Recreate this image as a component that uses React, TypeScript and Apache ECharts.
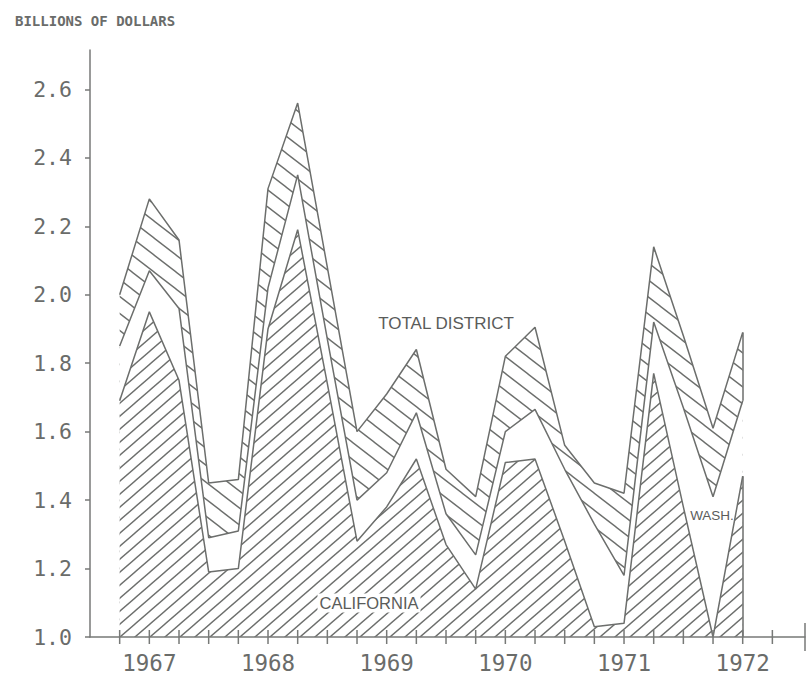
import React, { useEffect, useRef } from "react";
import * as echarts from "echarts";

// quarter index: 0 = 1967 tick, 4 = 1968 tick, ... 20 = 1972 tick
const quarters = [-1, 0, 1, 2, 3, 4, 5, 6, 7, 8, 9, 10, 11, 12, 13, 14, 15, 16, 17, 18, 19, 20];
const yearLabels = ["1967", "1968", "1969", "1970", "1971", "1972"];
const yearTicks = [0, 4, 8, 12, 16, 20];
const quarterTicks = [-1, 0, 1, 2, 3, 4, 5, 6, 7, 8, 9, 10, 11, 12, 13, 14, 15, 16, 17, 18, 19, 20, 21];
const yTicks = [1.0, 1.2, 1.4, 1.6, 1.8, 2.0, 2.2, 2.4, 2.6];

// upper boundary of each layer (billions of dollars)
const totalDistrict = [2.0, 2.28, 2.16, 1.45, 1.46, 2.31, 2.56, 2.08, 1.6, 1.71, 1.84, 1.49, 1.41, 1.82, 1.905, 1.56, 1.45, 1.42, 2.14, 1.88, 1.61, 1.89];
const californiaPlusWash = [1.85, 2.07, 1.96, 1.29, 1.31, 2.02, 2.35, 1.87, 1.4, 1.48, 1.655, 1.36, 1.24, 1.6, 1.665, 1.49, 1.33, 1.18, 1.92, 1.67, 1.41, 1.69];
const california = [1.69, 1.95, 1.75, 1.19, 1.2, 1.9, 2.19, 1.74, 1.28, 1.38, 1.52, 1.27, 1.14, 1.51, 1.52, 1.28, 1.03, 1.04, 1.77, 1.38, 1.0, 1.47];

const X_MIN = -2;
const X_MAX = 22.1;
const Y_MIN = 1.0;
const Y_MAX = 2.715;

const LINE = "#6c6e6c";
const AXIS = "#777977";
const TEXT = "#6a6c6a";
const MONO = "DejaVu Sans Mono, monospace";
const SANS = "Liberation Sans, Arial, sans-serif";

function hatch(dir: "/" | "\\", w: number, h: number, color: string, sw: number) {
  const segs: string[] = [];
  for (let k = -2; k <= 2; k++) {
    let x1 = -w, x2 = 2 * w, y1: number, y2: number;
    if (dir === "/") {
      y1 = 2 * h + k * h;
      y2 = -h + k * h;
    } else {
      y1 = -h + k * h;
      y2 = 2 * h + k * h;
    }
    segs.push(`<line x1="${x1}" y1="${y1}" x2="${x2}" y2="${y2}" stroke="${color}" stroke-width="${sw}"/>`);
  }
  const svg = `<svg xmlns="http://www.w3.org/2000/svg" width="${w}" height="${h}" viewBox="0 0 ${w} ${h}">${segs.join("")}</svg>`;
  return {
    image: "data:image/svg+xml;charset=utf-8," + encodeURIComponent(svg),
    repeat: "repeat",
    imageWidth: w,
    imageHeight: h,
  };
}

const pairs = (arr: number[]) => quarters.map((q, i) => [q, arr[i]]);
const lastQ = quarters[quarters.length - 1];
const lastIdx = quarters.length - 1;

export default function App() {
  const ref = useRef<HTMLDivElement>(null);
  useEffect(() => {
    if (!ref.current) return;
    const chart = echarts.init(ref.current, undefined, { renderer: "svg" });
    const option: any = {
      animation: false,
      backgroundColor: "#ffffff",
      title: {
        text: "BILLIONS OF DOLLARS",
        left: 10,
        top: 9,
        textStyle: { fontFamily: MONO, fontSize: 14, fontWeight: "bold", color: "#6a6c6a" },
      },
      grid: { left: 90, right: 2, top: 50, bottom: 43, containLabel: false },
      xAxis: {
        type: "value",
        min: X_MIN,
        max: X_MAX,
        interval: 1,
        z: 10,
        splitLine: { show: false },
        axisLine: { show: true, onZero: false, lineStyle: { color: AXIS, width: 1.5 } },
        axisTick: { show: false },
        axisLabel: {
          show: true,
          customValues: yearTicks,
          formatter: (v: number) => {
            const i = yearTicks.indexOf(Math.round(v));
            return i >= 0 ? yearLabels[i] : "";
          },
          margin: 14,
          fontFamily: MONO,
          fontSize: 22.5,
          color: TEXT,
        },
      },
      yAxis: {
        type: "value",
        min: Y_MIN,
        max: Y_MAX,
        interval: 0.2,
        z: 10,
        splitLine: { show: false },
        axisLine: { show: true, onZero: false, lineStyle: { color: AXIS, width: 1.5 } },
        axisTick: { show: true, inside: false, length: 5, customValues: yTicks, lineStyle: { color: AXIS, width: 1.5 } },
        axisLabel: {
          show: true,
          customValues: yTicks,
          formatter: (v: number) => v.toFixed(1),
          margin: 18,
          fontFamily: MONO,
          fontSize: 21.5,
          color: TEXT,
          verticalAlign: "middle",
          padding: [0, 0, 11, 0],
        },
      },
      series: [
        {
          name: "Total District",
          type: "line",
          z: 1,
          data: pairs(totalDistrict),
          symbol: "none",
          lineStyle: { color: LINE, width: 1.5 },
          itemStyle: { color: LINE },
          areaStyle: { color: hatch("\\", 22, 17, LINE, 1.4), opacity: 1, origin: "start" },
          markLine: {
            silent: true,
            symbol: ["none", "none"],
            label: { show: false },
            lineStyle: { color: LINE, width: 1.5, type: "solid" },
            data: [[{ coord: [lastQ, californiaPlusWash[lastIdx]] }, { coord: [lastQ, totalDistrict[lastIdx]] }]],
          },
        },
        {
          name: "Washington",
          type: "line",
          z: 2,
          data: pairs(californiaPlusWash),
          symbol: "none",
          lineStyle: { color: LINE, width: 1.5 },
          itemStyle: { color: LINE },
          areaStyle: { color: "#ffffff", opacity: 1, origin: "start" },
        },
        {
          name: "California",
          type: "line",
          z: 3,
          data: pairs(california),
          symbol: "none",
          lineStyle: { color: LINE, width: 1.5 },
          itemStyle: { color: LINE },
          areaStyle: { color: hatch("/", 15, 13, LINE, 1.4), opacity: 1, origin: "start" },
          markLine: {
            silent: true,
            symbol: ["none", "none"],
            label: { show: false },
            lineStyle: { color: LINE, width: 1.5, type: "solid" },
            data: [[{ coord: [lastQ, Y_MIN] }, { coord: [lastQ, california[lastIdx]] }]],
          },
        },
      ],
    };
    chart.setOption(option);

    // axis cross-ticks and the end cap, placed through the chart's own scales
    const tickValues = quarterTicks.map((t) => ({ t, len: 7 })).concat([{ t: X_MAX, len: 14 }]);
    const tickGraphics = tickValues.map(({ t, len }) => {
      const p = chart.convertToPixel({ gridIndex: 0 }, [t, Y_MIN]) as number[];
      return {
        type: "line",
        z: 200,
        silent: true,
        shape: { x1: p[0], y1: p[1] - len, x2: p[0], y2: p[1] + len },
        style: { stroke: AXIS, lineWidth: 1.5 },
      };
    });
    const textGraphics = [
      {
        type: "text",
        x: 446,
        y: 323,
        z: 100,
        style: { text: "TOTAL DISTRICT", fontFamily: SANS, fontSize: 17, fill: "#5a5c5a", align: "center", verticalAlign: "middle" },
      },
      {
        type: "text",
        x: 369,
        y: 603,
        z: 100,
        style: {
          text: "CALIFORNIA",
          fontFamily: SANS,
          fontSize: 16.5,
          fill: "#5a5c5a",
          align: "center",
          verticalAlign: "middle",
          backgroundColor: "#ffffff",
          padding: [1, 2, 1, 2],
        },
      },
      {
        type: "text",
        x: 712,
        y: 515,
        z: 100,
        style: { text: "WASH.", fontFamily: SANS, fontSize: 13.5, fill: "#5a5c5a", align: "center", verticalAlign: "middle" },
      },
    ];
    chart.setOption({ graphic: [...tickGraphics, ...textGraphics] });
    return () => chart.dispose();
  }, []);
  return (
    <div
      ref={ref}
      style={{ position: "fixed", left: 0, top: 0, width: 807, height: 680, background: "#fff" }}
    />
  );
}
